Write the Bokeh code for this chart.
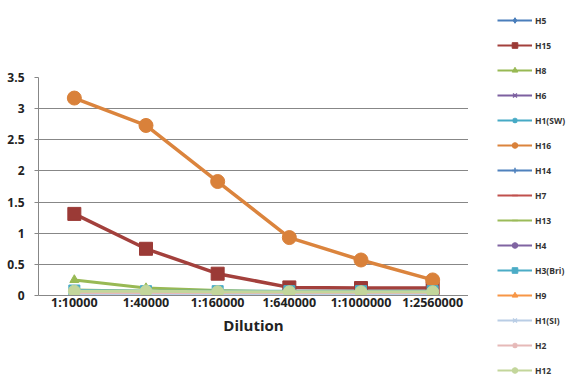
from bokeh.plotting import figure
from bokeh.layouts import row
from bokeh.models import Legend, LegendItem, FixedTicker, FactorRange, Range1d
from bokeh.embed import file_html
from bokeh.resources import INLINE

categories = ["1:10000", "1:40000", "1:160000", "1:640000", "1:1000000", "1:2560000"]

H5 = [0.03, 0.03, 0.03, 0.03, 0.03, 0.03]
H15 = [1.31, 0.75, 0.35, 0.13, 0.12, 0.12]
H8 = [0.25, 0.12, 0.08, 0.06, 0.06, 0.06]
H6 = [0.03, 0.03, 0.03, 0.03, 0.03, 0.03]
H1_SW = [0.05, 0.05, 0.05, 0.05, 0.05, 0.05]
H16 = [3.17, 2.73, 1.83, 0.93, 0.57, 0.25]
H14 = [0.02, 0.02, 0.02, 0.02, 0.02, 0.02]
H7 = [0.02, 0.02, 0.02, 0.02, 0.02, 0.02]
H13 = [0.09, 0.07, 0.06, 0.05, 0.05, 0.05]
H4 = [0.02, 0.02, 0.02, 0.02, 0.02, 0.02]
H3_Bri = [0.08, 0.07, 0.07, 0.07, 0.07, 0.07]
H9 = [0.0, 0.0, 0.0, 0.0, 0.0, 0.0]
H1_SI = [0.03, 0.03, 0.03, 0.03, 0.03, 0.03]
H2 = [0.05, 0.05, 0.05, 0.05, 0.05, 0.05]
H12 = [0.07, 0.07, 0.06, 0.06, 0.06, 0.06]

y_ticks = [0, 0.5, 1, 1.5, 2, 2.5, 3, 3.5]
y_tick_labels = ["0", "0.5", "1", "1.5", "2", "2.5", "3", "3.5"]

# name, values, line colour, marker colour, marker, plot marker size, legend marker size
series = [
    ("H5", H5, "#4A7EBB", "#4A7EBB", "diamond", 8, 7),
    ("H15", H15, "#A3403C", "#9B3A36", "square", 13, 6),
    ("H8", H8, "#98B954", "#98B954", "triangle", 9, 6),
    ("H6", H6, "#7D60A0", "#7D60A0", "x", 8, 5),
    ("H1(SW)", H1_SW, "#46AAC5", "#46AAC5", "asterisk", 8, 5),
    ("H16", H16, "#DB843D", "#D9813A", "circle", 14, 6),
    ("H14", H14, "#4F81BD", "#4F81BD", "cross", 9, 7),
    ("H7", H7, "#C0504D", "#C0504D", "dash", 8, 5),
    ("H13", H13, "#9BBB59", "#9BBB59", "dash", 8, 5),
    ("H4", H4, "#8064A2", "#8064A2", "circle", 8, 5),
    ("H3(Bri)", H3_Bri, "#4BACC6", "#4BACC6", "square", 11, 6),
    ("H9", H9, "#F79646", "#F79646", "triangle", 10, 6),
    ("H1(SI)", H1_SI, "#B9CDE5", "#B9CDE5", "x", 8, 5),
    ("H2", H2, "#E6B9B8", "#E6B9B8", "asterisk", 8, 5),
    ("H12", H12, "#C3D69B", "#C3D69B", "circle", 12, 6),
]

p = figure(width=468, height=375, x_range=FactorRange(*categories, range_padding=0),
           y_range=Range1d(0, 3.5), output_backend="svg", toolbar_location=None,
           min_border_left=38, min_border_right=0, min_border_top=77, min_border_bottom=80)
p.outline_line_color = None
p.background_fill_color = "white"

# legend-holder figure: its view range lies far above the data, so its copies are never seen
lg = figure(width=100, height=375, x_range=FactorRange(*categories, range_padding=0),
            y_range=Range1d(100, 101), output_backend="svg", toolbar_location=None,
            min_border_left=0, min_border_right=0, min_border_top=77, min_border_bottom=80,
            x_axis_location=None, y_axis_location=None)
lg.outline_line_color = None
lg.grid.visible = False

items = []
for name, vals, lc, mc, marker, size, lsize in series:
    lw = 3.5 if name in ("H16", "H15") else 3
    thin = marker in ("x", "asterisk", "cross", "dash")
    p.line(categories, vals, line_color=lc, line_width=lw)
    p.scatter(categories, vals, marker=marker, size=size, fill_color=mc,
              line_color=mc, line_width=2 if thin else 1)
    r1 = lg.line(categories, vals, line_color=lc, line_width=2)
    r2 = lg.scatter(categories, vals, marker=marker, size=lsize, fill_color=mc,
                    line_color=mc, line_width=1.5 if thin else 1)
    items.append(LegendItem(label=name, renderers=[r1, r2]))

legend = Legend(items=items, location=(29, -82), padding=0, margin=0,
                spacing=11, glyph_width=35, glyph_height=14, label_height=14,
                label_standoff=3, label_text_font="Open Sans", label_text_font_style="bold",
                label_text_font_size="8.5px", label_text_color="#333333",
                border_line_alpha=0, background_fill_alpha=0)
lg.add_layout(legend, "left")

p.yaxis.ticker = FixedTicker(ticks=y_ticks)
p.yaxis.major_label_overrides = {t: l for t, l in zip(y_ticks, y_tick_labels)}
p.yaxis.major_label_text_font = "Open Sans"
p.yaxis.major_label_text_font_style = "bold"
p.yaxis.major_label_text_font_size = "12px"
p.yaxis.major_label_text_color = "#222222"
p.yaxis.axis_line_color = "#878787"
p.yaxis.major_tick_line_color = "#878787"
p.yaxis.major_tick_out = 4
p.yaxis.major_tick_in = 0
p.yaxis.minor_tick_line_color = None
p.yaxis.major_label_standoff = 10

p.xaxis.axis_line_color = "#878787"
p.xaxis.major_tick_line_color = None
p.xaxis.major_tick_out = 0
p.xaxis.major_tick_in = 0
p.xaxis.major_label_text_font = "Open Sans"
p.xaxis.major_label_text_font_style = "bold"
p.xaxis.major_label_text_font_size = "12.5px"
p.xaxis.major_label_text_color = "#222222"
p.xaxis.major_label_standoff = -2
p.xaxis.axis_label = "Dilution"
p.xaxis.axis_label_text_font = "Open Sans"
p.xaxis.axis_label_text_font_style = "bold"
p.xaxis.axis_label_text_font_size = "15px"
p.xaxis.axis_label_text_color = "#222222"
p.xaxis.axis_label_standoff = 1

p.xgrid.grid_line_color = None
p.ygrid.grid_line_color = "#878787"
p.ygrid.grid_line_width = 1

layout = row(p, lg)
open("out.html", "w").write(file_html(layout, INLINE))
